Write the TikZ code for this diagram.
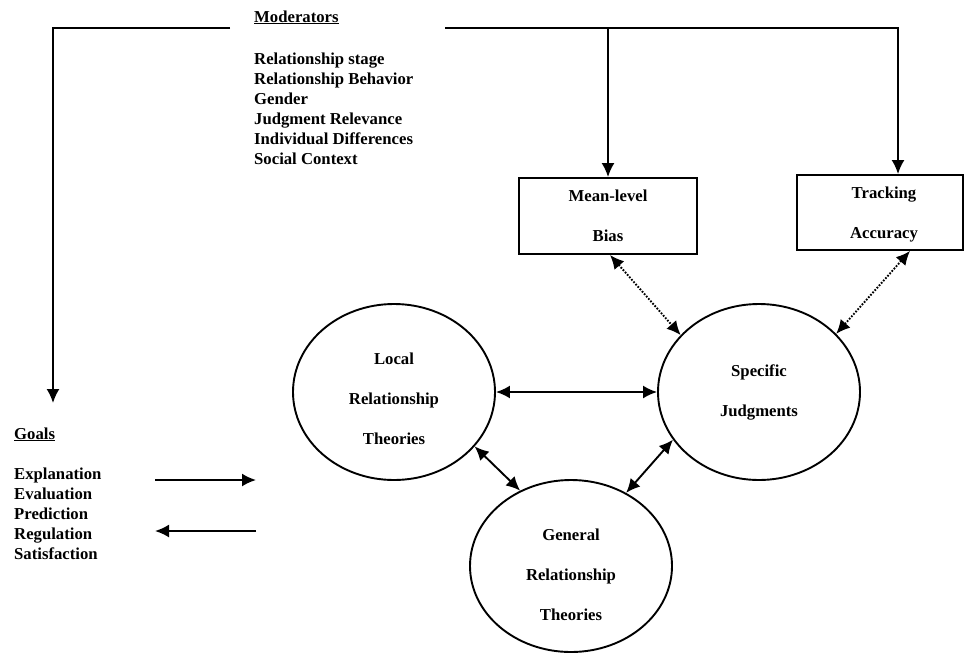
\documentclass[tikz,border=0pt]{standalone}
\usepackage{fontspec}
\setmainfont{Liberation Serif}
\usetikzlibrary{arrows.meta,shapes.geometric}
\begin{document}
\begin{tikzpicture}[x=1pt,y=-1pt,
  every node/.style={font=\fontsize{16.7}{20}\selectfont\bfseries},
  ln/.style={line width=1.9pt},
  arr/.style={ln,-{Latex[length=14pt,width=13pt]}},
  darr/.style={ln,{Latex[length=14pt,width=13pt]}-{Latex[length=14pt,width=13pt]}},
  dotarr/.style={darr, dash pattern=on 1.7pt off 1.5pt},
  oval/.style={ellipse, draw, ln, minimum width=202pt, minimum height=176pt, inner sep=0pt, align=center, font=\fontsize{16.7}{40}\selectfont\bfseries},
  box/.style={rectangle, draw, ln, inner sep=0pt, align=center, font=\fontsize{16.7}{40}\selectfont\bfseries},
  lbl/.style={inner sep=0pt, anchor=base west}]
\useasboundingbox (0,0) rectangle (965,653);

% ovals
\node[oval] (local) at (394,392) {\rule{0pt}{25pt}Local\\Relationship\\Theories};
\node[oval] (spec) at (759,392) {\rule{0pt}{13pt}Specific\\Judgments};
\node[oval, minimum height=172pt] (gen) at (571,566) {\rule{0pt}{29pt}General\\Relationship\\Theories};

% boxes
\node[box, minimum width=178pt, minimum height=76pt] (mean) at (608,216) {Mean-level\\Bias};
\node[box, minimum width=166pt, minimum height=75pt] (track) at (880,212.5) {\rule{0pt}{15pt}\hspace*{8pt}Tracking\\\hspace*{8pt}Accuracy};

% moderators
\node[lbl] (modt) at (254,22) {\underline{Moderators}};
\node[lbl] (m1) at (254,64) {Relationship stage};
\node[lbl] (m2) at (254,84) {Relationship Behavior};
\node[lbl] (m3) at (254,104) {Gender};
\node[lbl] (m4) at (254,124) {Judgment Relevance};
\node[lbl] (m5) at (254,144) {Individual Differences};
\node[lbl] (m6) at (254,164) {Social Context};

% goals
\node[lbl] (goalt) at (14,439) {\underline{Goals}};
\node[lbl] (g1) at (14,479) {Explanation};
\node[lbl] (g2) at (14,499) {Evaluation};
\node[lbl] (g3) at (14,519) {Prediction};
\node[lbl] (g4) at (14,539) {Regulation};
\node[lbl] (g5) at (14,559) {Satisfaction};

% coordinates for free ends
\coordinate (tlend) at (230,28);
\coordinate (tl) at (53,28);
\coordinate (gtip) at (53,403);
\coordinate (trs) at (445,28);
\coordinate (mtop) at (608,28);
\coordinate (ttop) at (898,28);
\coordinate (ga1) at (155,480);
\coordinate (ga2) at (256,480);
\coordinate (gb1) at (256,531);
\coordinate (gb2) at (155,531);

% moderator lines
\draw[arr] (tlend) -- (tl) -- (gtip);
\draw[arr] (trs) -- (ttop) -- (ttop |- track.north);
\draw[arr] (mtop) -- (mean.north);

% goal arrows
\draw[arr] (ga1) -- (ga2);
\draw[arr] (gb1) -- (gb2);

% oval connections
\draw[darr] (local.east) -- (spec.west);
\draw[darr] (local.-34.8) -- (gen.124.6);
\draw[darr] (spec.209.2) -- (gen.53.9);

% dotted
\draw[dotarr] ([xshift=2pt]mean.south) -- (spec.144.9);
\draw[dotarr] ([xshift=30pt]track.south) -- (spec.37.6);
\end{tikzpicture}
\end{document}
